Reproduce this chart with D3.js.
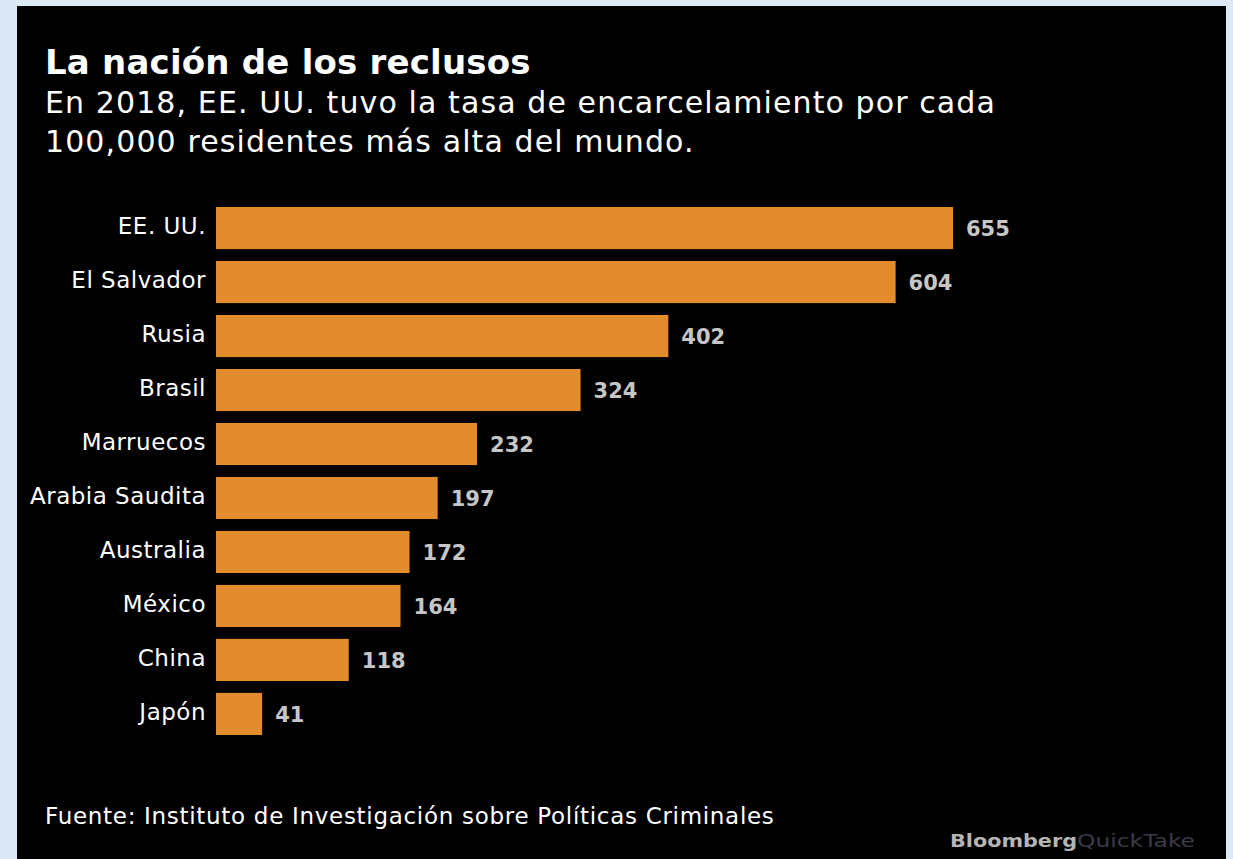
<!DOCTYPE html>
<html>
<head>
<meta charset="utf-8">
<script src="https://d3js.org/d3.v7.min.js"></script>
<style>
  html, body { margin: 0; padding: 0; background: #dce8f5; }
  svg { display: block; }
</style>
</head>
<body>
<svg id="chart" width="1233" height="859"></svg>
<script>
// data (incarceration rate per 100,000 residents, 2018)
const countries = ['EE. UU.', 'El Salvador', 'Rusia', 'Brasil', 'Marruecos',
                   'Arabia Saudita', 'Australia', 'México', 'China', 'Japón'];
const rates = [655, 604, 402, 324, 232, 197, 172, 164, 118, 41];

const title = 'La nación de los reclusos';
const subtitleLines = [
  'En 2018, EE. UU. tuvo la tasa de encarcelamiento por cada',
  '100,000 residentes más alta del mundo.'
];
const source = 'Fuente: Instituto de Investigación sobre Políticas Criminales';

// ---- layout ----
const PANEL = { x: 17, y: 6, w: 1209, h: 853 };
const BAR_X0 = 216;
const BAR_TOP = 207, BAR_BOTTOM = 735;
const ORANGE = '#e38c2d';
const FONT = '"DejaVu Sans", Verdana, sans-serif';

const svg = d3.select('#chart');

svg.append('rect')
  .attr('x', PANEL.x).attr('y', PANEL.y)
  .attr('width', PANEL.w).attr('height', PANEL.h)
  .attr('fill', '#000');

// title + subtitle
svg.append('text')
  .attr('x', 45).attr('y', 74)
  .attr('font-family', FONT)
  .attr('font-weight', 'bold')
  .attr('font-size', '34px')
  .attr('letter-spacing', '0.2px')
  .attr('fill', '#fff')
  .text(title);

svg.append('g').selectAll('text')
  .data(subtitleLines)
  .enter()
  .append('text')
  .attr('x', 45)
  .attr('y', (d, i) => 113 + i * 39)
  .attr('font-family', FONT)
  .attr('font-size', '30px')
  .attr('letter-spacing', '1.1px')
  .attr('fill', '#fff')
  .text(d => d);

// scales
const x = d3.scaleLinear()
  .domain([0, 655])
  .range([BAR_X0, 953]);

const y = d3.scaleBand()
  .domain(countries)
  .range([BAR_TOP, BAR_BOTTOM])
  .paddingInner(0.22)
  .paddingOuter(0);

const rows = svg.append('g').attr('class', 'bars')
  .selectAll('g.row')
  .data(countries.map((c, i) => ({ name: c, value: rates[i] })))
  .enter()
  .append('g')
  .attr('class', 'row');

rows.append('rect')
  .attr('x', x(0))
  .attr('y', d => y(d.name))
  .attr('width', d => x(d.value) - x(0))
  .attr('height', y.bandwidth())
  .attr('fill', ORANGE);

// category labels
rows.append('text')
  .attr('x', BAR_X0 - 10)
  .attr('y', d => y(d.name) + y.bandwidth() / 2 + 6)
  .attr('text-anchor', 'end')
  .attr('font-family', FONT)
  .attr('font-size', '23px')
  .attr('letter-spacing', '0.5px')
  .attr('fill', '#fff')
  .text(d => d.name);

// value labels
rows.append('text')
  .attr('x', d => x(d.value) + 13)
  .attr('y', d => y(d.name) + y.bandwidth() / 2 + 8)
  .attr('font-family', FONT)
  .attr('font-weight', 'bold')
  .attr('font-size', '21px')
  .attr('fill', '#c6c6c6')
  .text(d => d.value);

// source
svg.append('text')
  .attr('x', 45).attr('y', 824)
  .attr('font-family', FONT)
  .attr('font-size', '23px')
  .attr('letter-spacing', '0.7px')
  .attr('fill', '#fff')
  .text(source);

// logo
const logo = svg.append('text')
  .attr('x', 950).attr('y', 847)
  .attr('font-family', FONT)
  .attr('font-weight', 'bold')
  .attr('font-size', '18px');
logo.append('tspan').attr('fill', '#b5b5b5')
  .attr('textLength', 127).attr('lengthAdjust', 'spacingAndGlyphs')
  .text('Bloomberg');
logo.append('tspan').attr('fill', '#3c3c48').attr('font-weight', 'normal')
  .attr('textLength', 118).attr('lengthAdjust', 'spacingAndGlyphs')
  .text('QuickTake');
</script>
</body>
</html>
